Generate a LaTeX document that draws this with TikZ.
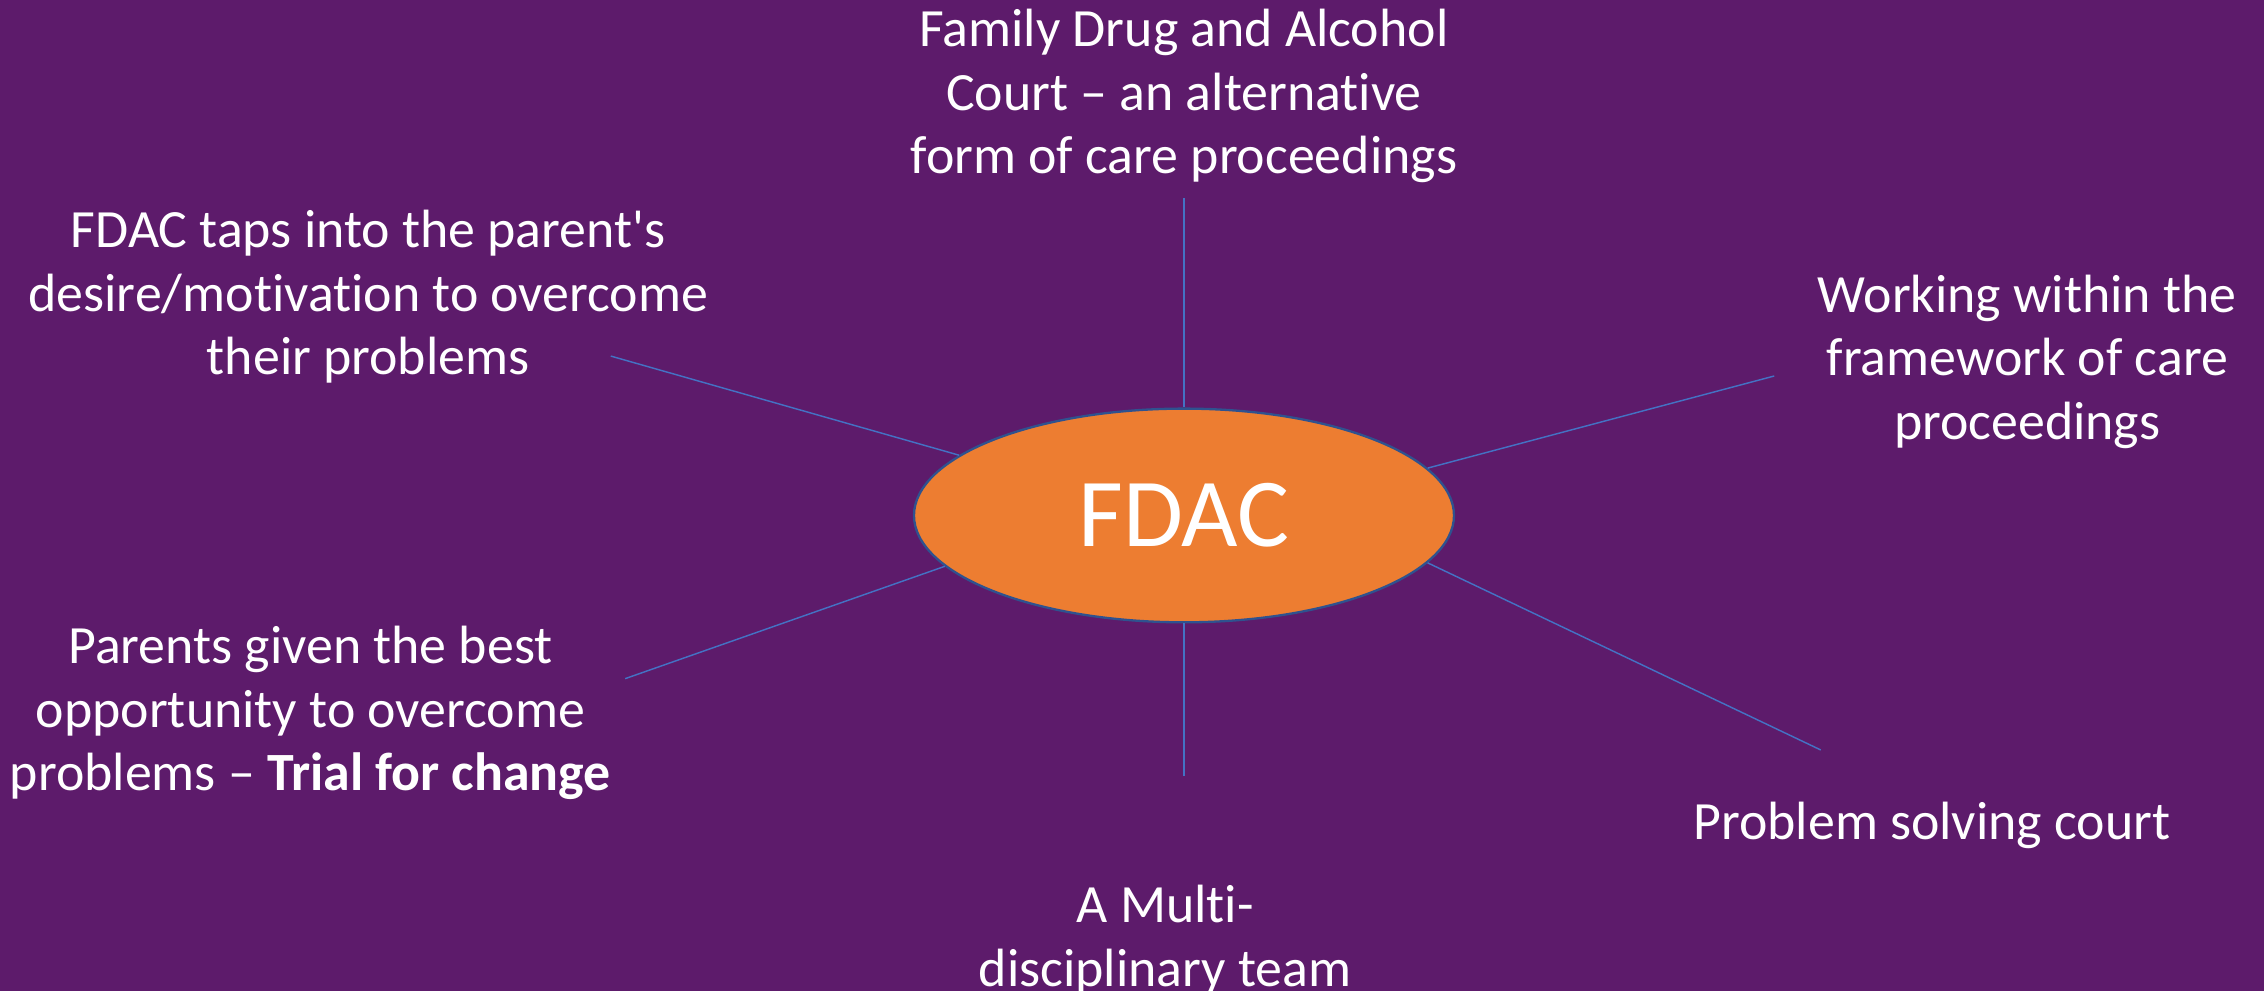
\documentclass[tikz,border=0pt]{standalone}
\usepackage{fontspec}
\setmainfont{Carlito}[Ligatures={CommonOff,TeXOff}]
\usetikzlibrary{shapes.geometric}
\definecolor{bgpurple}{HTML}{5D1B6B}
\definecolor{fdacorange}{HTML}{ED7D31}
\definecolor{rimblue}{HTML}{2F528F}
\definecolor{spokeblue}{HTML}{4472C4}
\begin{document}
\begin{tikzpicture}[x=1pt,y=-1pt,
  lbl/.style={text=white, align=center, inner sep=0pt, font=\fontsize{37.3}{44}\selectfont},
  hub/.style={ellipse, fill=fdacorange, draw=rimblue, line width=1.6pt, minimum width=374pt, minimum height=148pt, inner sep=0pt, text=white, font=\fontsize{67.5}{80}\selectfont},
  spoke/.style={draw=spokeblue, line width=1pt}]
\fill[bgpurple] (0,0) rectangle (1568,686);
\useasboundingbox (0,0) rectangle (1568,686);

\node[hub] (fdac) at (820,357) {FDAC};

\node[lbl] (ttop) at (820,66.5) {Family Drug and Alcohol\\Court – an alternative\\form of care proceedings};
\node[lbl] (tul) at (255,205.5) {FDAC taps into the parent's\\desire/motivation to overcome\\their problems};
\node[lbl] (tur) at (1404,250.5) {Working within the\\framework of care\\proceedings};
\node[lbl] (tll) at (215,494) {Parents given the best\\opportunity to overcome\\problems – \textbf{Trial for change}};
\node[lbl] (tlr) at (1338,572) {Problem solving court};
\node[lbl] (tbot) at (807,651) {A Multi-\\disciplinary team};

\coordinate (ctop) at (820,137);
\coordinate (cbot) at (820,537.5);
\coordinate (cul) at (423,246.6);
\coordinate (cll) at (433,470);
\coordinate (cur) at (1228.8,260.4);
\coordinate (clr) at (1261,519.4);

\path[spoke] (ctop) -- (fdac.90);
\path[spoke] (cbot) -- (fdac.270);
\path[spoke] (cul) -- (fdac.165.5);
\path[spoke] (cll) -- (fdac.192.8);
\path[spoke] (cur) -- (fdac.11);
\path[spoke] (clr) -- (fdac.-11.5);
\end{tikzpicture}
\end{document}
